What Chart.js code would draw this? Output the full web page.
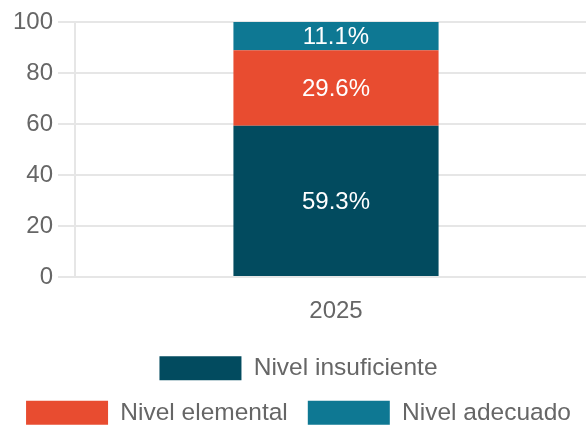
<!DOCTYPE html>
<html>
<head>
<meta charset="utf-8">
<script src="https://cdn.jsdelivr.net/npm/chart.js@4/dist/chart.umd.min.js"></script>
<style>
  html, body { margin: 0; padding: 0; background: #ffffff; overflow: hidden; }
  #wrap { position: relative; width: 600px; height: 435px; }
</style>
</head>
<body>
<div id="wrap"><canvas id="c"></canvas></div>
<script>
const categories = ['2025'];
const seriesNames = ['Nivel insuficiente', 'Nivel elemental', 'Nivel adecuado'];
const insuficiente = [59.3];
const elemental = [29.6];
const adecuado = [11.1];
const seriesColors = ['#024b5f', '#e84c30', '#0e7893'];
const yTicks = [0, 20, 40, 60, 80, 100];

const FONT = '"Liberation Sans", Arial, Helvetica, sans-serif';

const valueLabels = {
  id: 'valueLabels',
  afterDatasetsDraw(chart) {
    const ctx = chart.ctx;
    ctx.save();
    ctx.fillStyle = '#ffffff';
    ctx.font = '24px ' + FONT;
    ctx.textAlign = 'center';
    ctx.textBaseline = 'middle';
    chart.data.datasets.forEach((ds, i) => {
      const meta = chart.getDatasetMeta(i);
      meta.data.forEach((el, j) => {
        const v = ds.data[j];
        const p = el.getProps(['x', 'y', 'base'], true);
        ctx.fillText(v.toFixed(1) + '%', p.x, (p.y + p.base) / 2 + 1);
      });
    });
    ctx.restore();
  }
};

const gridColor = '#e6e6e6';

new Chart(document.getElementById('c'), {
  type: 'bar',
  data: {
    labels: categories,
    datasets: [
      { label: seriesNames[0], data: insuficiente, backgroundColor: seriesColors[0] },
      { label: seriesNames[1], data: elemental, backgroundColor: seriesColors[1] },
      { label: seriesNames[2], data: adecuado, backgroundColor: seriesColors[2] }
    ]
  },
  options: {
    responsive: true,
    maintainAspectRatio: false,
    animation: false,
    devicePixelRatio: 1,
    layout: { padding: { top: 22, left: 0, right: 3, bottom: 0 } },
    datasets: { bar: { categoryPercentage: 1, barPercentage: 0.393 } },
    scales: {
      x: {
        stacked: true,
        grid: { color: gridColor, lineWidth: 2, drawTicks: false },
        border: { display: false },
        ticks: { color: '#666666', font: { family: FONT, size: 24 }, padding: 20 },
        afterFit(scale) { scale.height = 59; }
      },
      y: {
        stacked: true,
        min: 0,
        max: 100,
        afterBuildTicks(scale) { scale.ticks = yTicks.map(v => ({ value: v })); },
        grid: { color: gridColor, lineWidth: 2, tickLength: 17 },
        border: { display: true, color: gridColor, width: 2 },
        ticks: { color: '#666666', font: { family: FONT, size: 24 }, padding: 5 },
        afterFit(scale) { scale.width = 75; }
      }
    },
    plugins: {
      legend: {
        position: 'bottom',
        labels: {
          boxWidth: 82,
          boxHeight: 24,
          padding: 20,
          color: '#666666',
          font: { family: FONT, size: 24.5 }
        }
      },
      tooltip: { enabled: false }
    }
  },
  plugins: [valueLabels]
});
</script>
</body>
</html>
